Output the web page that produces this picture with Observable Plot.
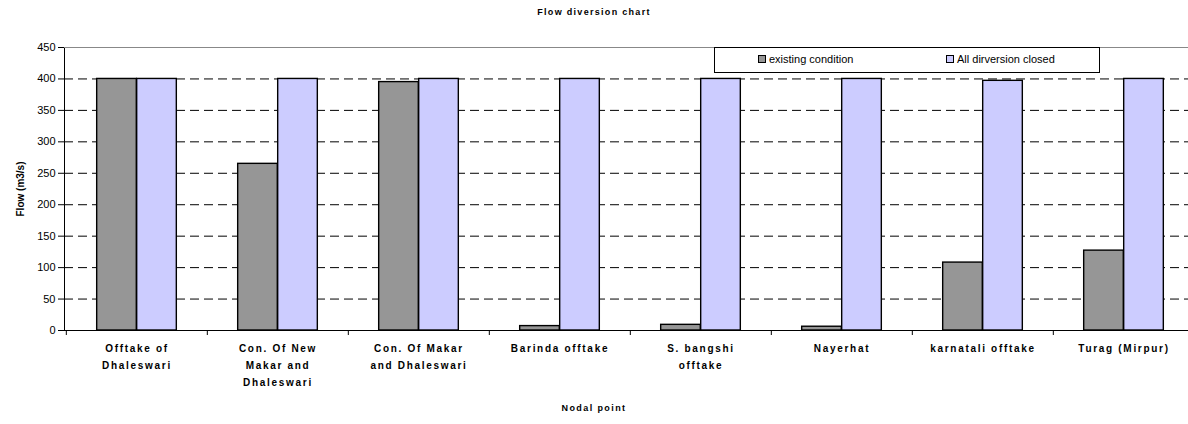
<!DOCTYPE html>
<html>
<head>
<meta charset="utf-8">
<script src="https://cdn.jsdelivr.net/npm/d3@7"></script>
<script src="https://cdn.jsdelivr.net/npm/@observablehq/plot@0.6"></script>
<style>
  html, body { margin: 0; padding: 0; background: #fff; overflow: hidden; }
  body { font-family: "Liberation Sans", Arial, sans-serif; }
  #wrap { position: relative; width: 1188px; height: 424px; }
  #title { position: absolute; top: 7px; left: 0; width: 1188px; text-align: center;
           font-weight: bold; font-size: 9px; letter-spacing: 1.3px; }
  #xlabel { position: absolute; top: 403px; left: 0; width: 1188px; text-align: center;
           font-weight: bold; font-size: 9px; letter-spacing: 1.4px; }
  #legend { position: absolute; left: 714px; top: 47px; width: 386px; height: 26px;
            border: 1px solid #000; box-sizing: border-box; background: #fff; font-size: 11px; }
  .item { position: absolute; top: 5px; white-space: nowrap; }
  .sw { display: inline-block; width: 6px; height: 6px; border: 1px solid #000; margin-right: 3px; vertical-align: 0px; }
  svg g[aria-label="text"] text { letter-spacing: 1.7px; }
  svg g[aria-label="y-axis label"] text { font-weight: bold; font-size: 10px; }
</style>
</head>
<body>
<div id="wrap">
  <div id="title"></div>
  <div id="chart"></div>
  <div id="legend"></div>
  <div id="xlabel"></div>
</div>
<script>
const categories = ["Offtake of Dhaleswari", "Con. Of New Makar and Dhaleswari", "Con. Of Makar and Dhaleswari", "Barinda offtake", "S. bangshi offtake", "Nayerhat", "karnatali offtake", "Turag (Mirpur)"];
const categoryLabels = ["Offtake of\nDhaleswari", "Con. Of New\nMakar and\nDhaleswari", "Con. Of Makar\nand Dhaleswari", "Barinda offtake", "S. bangshi\nofftake", "Nayerhat", "karnatali offtake", "Turag (Mirpur)"];
const existingCondition = [400, 265, 395, 7, 9, 6, 108, 127];
const allDiversionClosed = [400, 400, 400, 400, 400, 400, 397, 400];
const seriesNames = ["existing condition", "All dirversion closed"];
const seriesColors = ["#969696", "#CCCCFF"];
const yTicks = [0, 50, 100, 150, 200, 250, 300, 350, 400, 450];
const titleText = "Flow diversion chart";
const xTitle = "Nodal point";
const yTitle = "Flow (m3/s)";

document.getElementById("title").textContent = titleText;
document.getElementById("xlabel").textContent = xTitle;

const legend = document.getElementById("legend");
const legendLeft = [43, 231];
seriesNames.forEach((s, i) => {
  const d = document.createElement("div");
  d.className = "item";
  d.style.left = legendLeft[i] + "px";
  d.innerHTML = `<span class="sw" style="background:${seriesColors[i]}"></span>${s}`;
  legend.appendChild(d);
});

const W = 1188, H = 424, mL = 64, mT = 47, mB = 94, mR = -7;
const xScale = Plot.scale({x: {type: "band", domain: categories, range: [mL, W - mR], padding: 0}});
const bw = xScale.bandwidth;
const barW = bw * 0.283;
const pxPerUnit = (H - mT - mB) / 450;

const rowsA = categories.map((c, i) => ({c, v: existingCondition[i]}));
const rowsB = categories.map((c, i) => ({c, v: allDiversionClosed[i]}));

const chart = Plot.plot({
  width: W, height: H,
  marginLeft: mL, marginTop: mT, marginBottom: mB, marginRight: mR,
  style: {fontFamily: "'Liberation Sans', Arial, sans-serif", fontSize: "11px", color: "#000", background: "#fff", overflow: "visible"},
  x: {type: "band", domain: categories, padding: 0, axis: null},
  y: {domain: [0, 450], ticks: yTicks, tickSize: 6, tickPadding: 3, line: true,
      label: yTitle, labelAnchor: "center", labelOffset: 48, labelArrow: "none"},
  marks: [
    Plot.ruleY(yTicks.filter(v => v > 0 && v < 450), {stroke: "#000", strokeWidth: 1, strokeDasharray: "9,5"}),
    Plot.ruleY([450], {stroke: "#888", strokeWidth: 1}),
    Plot.barY(rowsA, {x: "c", y: "v", fill: seriesColors[0], stroke: "#000", strokeWidth: 1.4,
      insetLeft: bw / 2 - barW, insetRight: bw / 2}),
    Plot.barY(rowsB, {x: "c", y: "v", fill: seriesColors[1], stroke: "#000", strokeWidth: 1.4,
      insetLeft: bw / 2, insetRight: bw / 2 - barW}),
    Plot.ruleY([0], {stroke: "#000", strokeWidth: 1.2}),
    Plot.ruleX(categories, {x: d => d, y1: 0, y2: -5 / pxPerUnit, dx: -bw / 2, stroke: "#000", strokeWidth: 1}),
    Plot.text(categories, {x: d => d, y: 0, text: (d, i) => categoryLabels[i], dy: 9, lineAnchor: "top",
      lineHeight: 1.7, fontWeight: "bold", fontSize: 10, fill: "#000"})
  ]
});
document.getElementById("chart").appendChild(chart);
</script>
</body>
</html>
